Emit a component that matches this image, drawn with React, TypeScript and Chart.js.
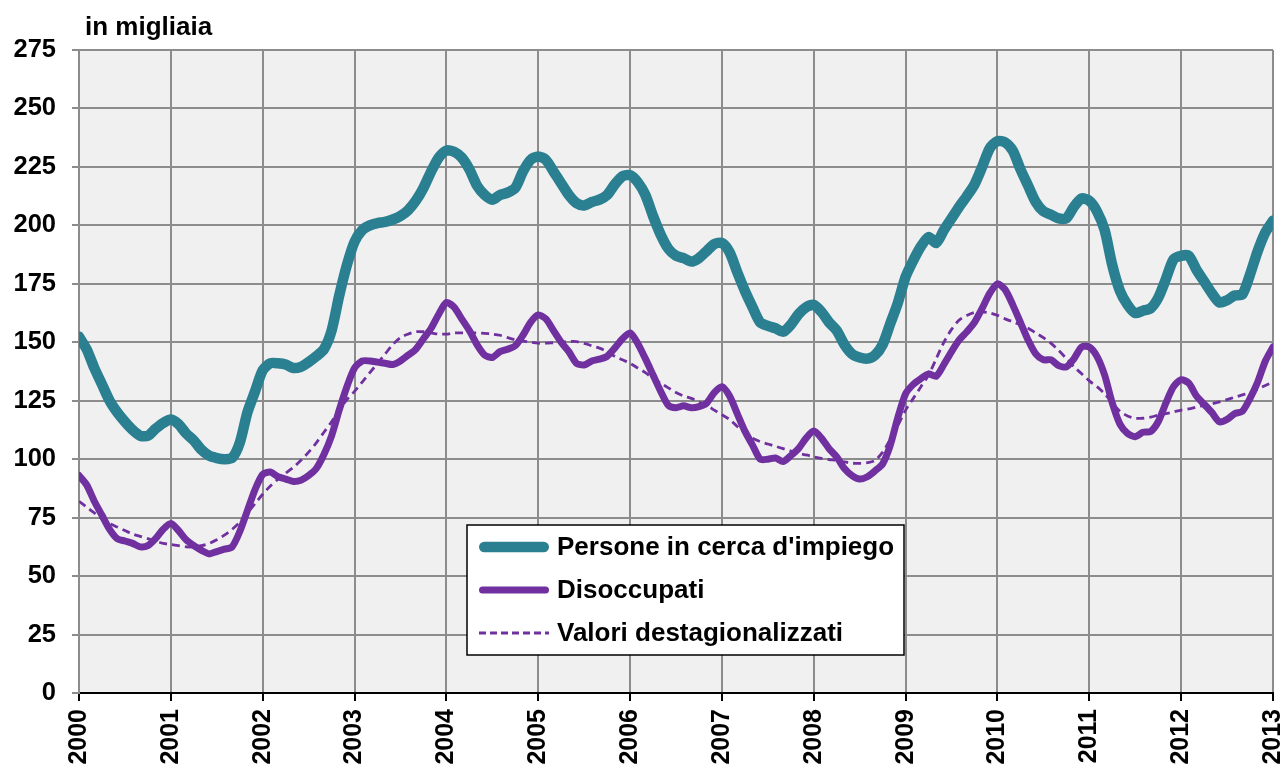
import React, { useEffect, useRef } from "react";
import { Chart, registerables } from "chart.js";

Chart.register(...registerables);

// ---- Data (monthly, Jan 2000 .. Jan 2013), values in thousands ----
const startYear = 2000;
const yearLabels = [2000, 2001, 2002, 2003, 2004, 2005, 2006, 2007, 2008, 2009, 2010, 2011, 2012, 2013];
const yTickValues = [0, 25, 50, 75, 100, 125, 150, 175, 200, 225, 250, 275];
const unitLabel = "in migliaia";
const seriesLabels = ["Persone in cerca d'impiego", "Disoccupati", "Valori destagionalizzati"];

const personeInCerca = [
  152.4, 147, 139, 132, 125, 120, 116, 112.5, 110, 110, 113, 115.5,
  117, 115, 111, 108, 104, 101.5, 100.5, 100, 100.5, 107, 120, 129,
  138, 141, 141, 140.5, 139, 139.5, 141.5, 144, 147, 155, 170, 183,
  193, 198, 200, 201, 201.5, 202.5, 204, 206.5, 210.5, 216, 223, 229,
  232, 231.5, 229, 224, 217, 213, 211, 213, 214, 216, 223, 228,
  229.5, 228, 223, 218, 213, 209.5, 208.5, 210, 211, 213, 217.5, 221,
  221.5, 218.5, 213, 204, 196, 190, 187, 186, 184.5, 186, 189, 192,
  192.5, 188.5, 180, 172, 165, 158.5, 157, 156, 154.5, 157.5, 162, 165,
  166, 163, 158.5, 155, 149, 145, 143.5, 143, 144.5, 149, 158, 167,
  178, 185, 191, 195, 192.5, 198, 203, 208, 212.5, 217.5, 225, 233,
  236, 235.5, 232, 224, 217, 210, 206, 204.5, 203, 203, 208, 211.5,
  210.5, 206, 198, 183, 172, 166, 162.5, 163.5, 164.5, 169, 177, 185.5,
  187, 187, 181, 176, 171, 167, 168, 170, 170.5, 179, 189, 197,
  202,
];

const disoccupati = [
  93, 89, 82, 76, 70, 66, 65, 64, 62.5, 63, 66, 70,
  72.5, 69.5, 65.5, 63, 61, 59.5, 60.5, 61.5, 62.5, 69, 78, 87,
  93.5, 94.5, 92.5, 91.5, 90.5, 91, 93, 96, 102, 110, 121, 131,
  139, 142, 142, 141.5, 141, 140.5, 142, 144.5, 147, 151.5, 156, 162,
  167, 165, 160, 155, 149, 144.5, 143.5, 146, 147, 148.5, 153, 158.5,
  161.7, 160, 155, 150, 146, 141, 140.3, 142, 142.8, 144, 147.5, 151.5,
  154, 149.5, 143, 136, 129, 123, 122, 122.8, 122, 122.5, 124, 128.5,
  131, 127, 119.5, 112, 106, 100, 100, 100.5, 99, 101.5, 104.5, 109,
  112, 109, 104.5, 101, 96, 93, 91.5, 92.5, 95, 98, 106, 118,
  128, 132, 134.5, 136.5, 135.5, 140.5, 146, 151, 154.5, 158.5, 164.5, 171,
  175, 172.5, 166, 158.5, 151, 145, 142.5, 142.5, 140, 139.5, 143, 148,
  148, 144, 136, 124, 115, 111, 109.6, 111.5, 111.8, 116, 124, 131,
  134, 132.5, 127, 123.5, 120, 116, 117, 119.5, 120.5, 126, 133, 142,
  148,
];

const destagionalizzati = [
  82, 79.5, 77, 74.5, 72.5, 71, 69.5, 68, 67, 66, 65, 64,
  63.5, 63, 62.5, 62.5, 63, 64, 65.5, 67.5, 70, 73, 77, 81,
  85, 88.5, 91.5, 94, 96.5, 99.5, 103, 107, 111.5, 116, 121, 125.5,
  129, 133, 137, 141, 145, 149, 152, 153.5, 154.5, 154.5, 154, 153.5,
  153.5, 154, 154, 154, 154, 153.8, 153.5, 153, 152, 151, 150.5, 150,
  149.6, 149.6, 149.8, 150, 150.3, 150.3, 149.5, 148.5, 147.5, 146, 144, 142.5,
  141, 139, 137, 134.5, 132.5, 130.5, 128.5, 127, 126, 124.5, 123, 121,
  119, 117, 114, 111.5, 109, 107.5, 106.5, 105.5, 104.5, 103.5, 102.5, 101.8,
  101, 100.3, 99.8, 99.5, 98.8, 98.3, 98.2, 98.5, 99.5, 103, 108.5, 114.5,
  121, 126, 131, 136, 143, 150, 155.5, 159.5, 161.5, 162.8, 163, 162.5,
  161.5, 160, 158.8, 157.5, 156, 154, 152, 149.5, 146.5, 143, 139.5, 136.5,
  133.5, 131, 128, 124, 120.5, 118.5, 117.5, 117.5, 118, 118.8, 119.5, 120.2,
  121, 121.5, 122.3, 123, 123.7, 124.5, 125.5, 126.5, 127.5, 128.5, 130, 131.5,
  133,
];

const TEAL = "#2A7F91";
const PURPLE = "#7030A0";
const GRID = "#8c8c8c";
const FONT = "'Liberation Sans', Arial, sans-serif";

const toPoints = (arr: number[]) => arr.map((v, i) => ({ x: i, y: v }));

const bgPlugin = {
  id: "plotBg",
  beforeDraw(chart: any) {
    const { ctx, chartArea } = chart;
    ctx.save();
    ctx.fillStyle = "#f0f0f0";
    ctx.fillRect(chartArea.left, chartArea.top, chartArea.right - chartArea.left, chartArea.bottom - chartArea.top);
    ctx.restore();
  },
};

const titlePlugin = {
  id: "unitTitle",
  afterDraw(chart: any) {
    const { ctx, chartArea } = chart;
    ctx.save();
    ctx.font = `bold 26px ${FONT}`;
    ctx.fillStyle = "#000";
    ctx.textBaseline = "alphabetic";
    ctx.textAlign = "left";
    ctx.fillText(unitLabel, chartArea.left + 6, chartArea.top - 15);
    ctx.restore();
  },
};

const legendPlugin = {
  id: "boxLegend",
  afterDraw(chart: any) {
    const { ctx, chartArea } = chart;
    const x = chartArea.left + 388;
    const y = chartArea.top + 475;
    const w = 437;
    const h = 130;
    ctx.save();
    ctx.fillStyle = "#fff";
    ctx.fillRect(x, y, w, h);
    ctx.strokeStyle = "#000";
    ctx.lineWidth = 1.5;
    ctx.strokeRect(x, y, w, h);
    chart.data.datasets.forEach((ds: any, i: number) => {
      const cy = y + 22 + i * 43;
      ctx.beginPath();
      const dashed = ds.borderDash && ds.borderDash.length;
      ctx.setLineDash(dashed ? [7, 4] : []);
      ctx.lineCap = dashed ? "butt" : "round";
      ctx.lineWidth = ds.borderWidth;
      ctx.strokeStyle = ds.borderColor;
      const pad = dashed ? 0 : ds.borderWidth / 2;
      ctx.moveTo(x + 12 + pad, cy);
      ctx.lineTo(x + 82 - pad, cy);
      ctx.stroke();
      ctx.setLineDash([]);
      ctx.font = `bold 26px ${FONT}`;
      ctx.fillStyle = "#000";
      ctx.textBaseline = "middle";
      ctx.textAlign = "left";
      ctx.fillText(ds.label, x + 90, cy + 1);
    });
    ctx.restore();
  },
};

export default function App() {
  const canvasRef = useRef<HTMLCanvasElement | null>(null);

  useEffect(() => {
    if (!canvasRef.current) return;
    const lastIndex = (yearLabels[yearLabels.length - 1] - startYear) * 12;
    const chart = new Chart(canvasRef.current, {
      type: "line",
      data: {
        datasets: [
          {
            label: seriesLabels[0],
            data: toPoints(personeInCerca),
            borderColor: TEAL,
            borderWidth: 10.5,
            pointRadius: 0,
            tension: 0.25,
            borderCapStyle: "round",
            borderJoinStyle: "round",
            fill: false,
          },
          {
            label: seriesLabels[1],
            data: toPoints(disoccupati),
            borderColor: PURPLE,
            borderWidth: 7,
            pointRadius: 0,
            tension: 0.25,
            borderCapStyle: "round",
            borderJoinStyle: "round",
            fill: false,
          },
          {
            label: seriesLabels[2],
            data: toPoints(destagionalizzati),
            borderColor: PURPLE,
            borderWidth: 2.8,
            borderDash: [8, 5],
            pointRadius: 0,
            tension: 0.3,
            fill: false,
          },
        ],
      },
      options: {
        responsive: false,
        animation: false,
        layout: { padding: { top: 50, right: 12, left: 0, bottom: 0 } },
        plugins: {
          legend: { display: false },
          tooltip: { enabled: false },
          title: { display: false },
        },
        scales: {
          x: {
            type: "linear",
            min: 0,
            max: lastIndex,
            afterBuildTicks(scale: any) {
              scale.ticks = yearLabels.map((yr) => ({ value: (yr - startYear) * 12 }));
            },
            afterFit(scale: any) {
              scale.height = 76;
              scale.paddingLeft = 0;
              scale.paddingRight = 0;
            },
            ticks: {
              autoSkip: false,
              maxRotation: 90,
              minRotation: 90,
              padding: 8,
              color: "#000",
              font: { family: FONT, size: 25, weight: "bold" },
              callback: (v: any) => String(startYear + Math.round(Number(v) / 12)),
            },
            grid: {
              color: GRID,
              lineWidth: 2,
              tickLength: 8,
              tickColor: "#000",
              tickWidth: 2,
            },
            border: { color: "#000", width: 2 },
          },
          y: {
            min: 0,
            max: yTickValues[yTickValues.length - 1],
            afterBuildTicks(scale: any) {
              scale.ticks = yTickValues.map((v) => ({ value: v }));
            },
            afterFit(scale: any) {
              scale.width = 79;
            },
            ticks: {
              padding: 16,
              color: "#000",
              font: { family: FONT, size: 25.5, weight: "bold" },
            },
            grid: {
              color: (ctx: any) => (ctx.tick && ctx.tick.value === 0 ? "#000" : GRID),
              lineWidth: 2,
              tickLength: 7,
              tickColor: GRID,
            },
            border: { color: GRID, width: 2 },
          },
        },
      },
      plugins: [bgPlugin, titlePlugin, legendPlugin],
    } as any);
    return () => chart.destroy();
  }, []);

  return (
    <div style={{ position: "absolute", left: 0, top: 0, width: 1285, height: 769 }}>
      <canvas ref={canvasRef} width={1285} height={769} />
    </div>
  );
}
